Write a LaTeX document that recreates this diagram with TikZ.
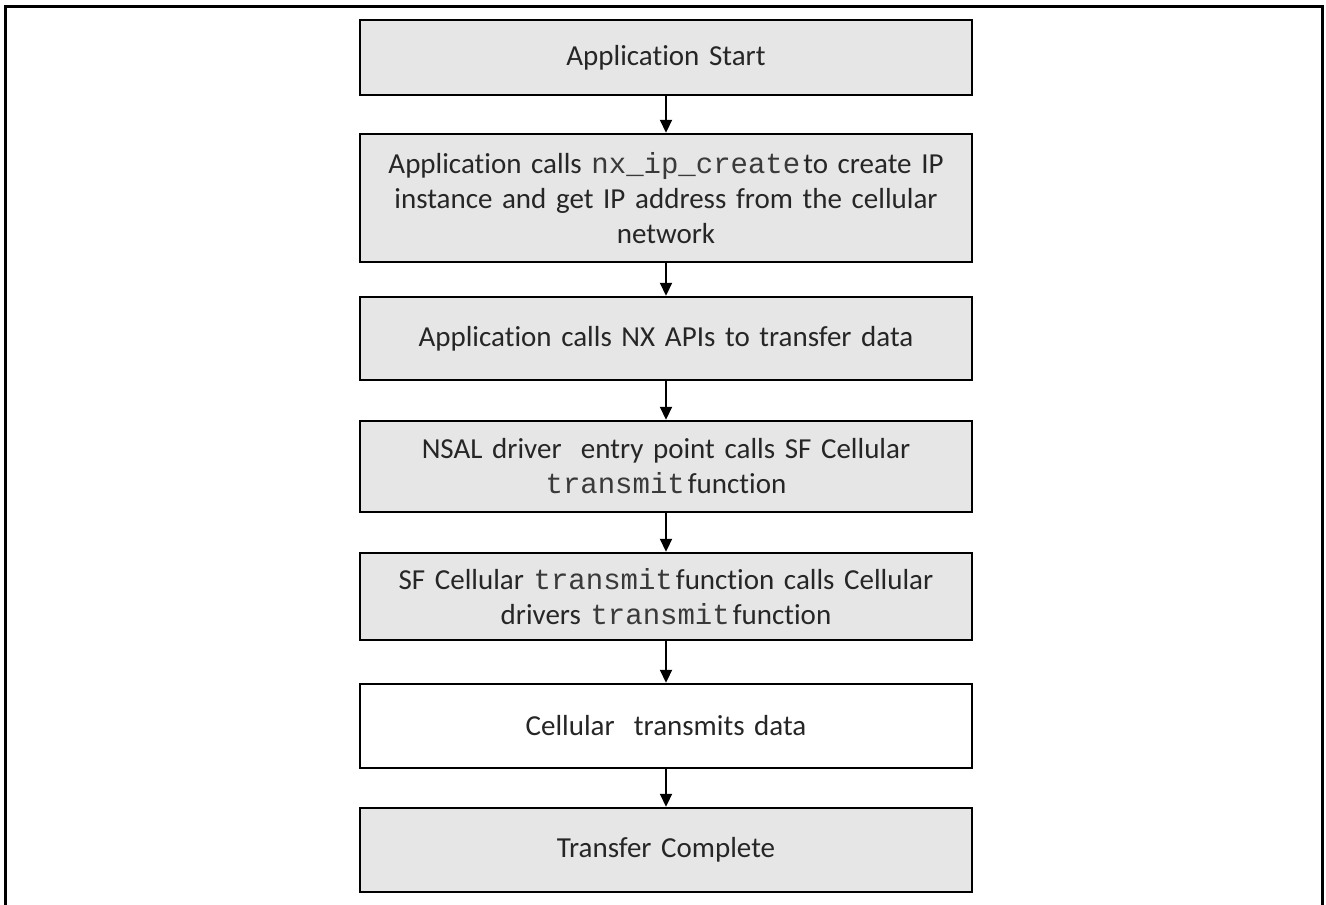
\documentclass[tikz,border=0pt]{standalone}
\usepackage{fontspec}
\setmainfont{Carlito}[Ligatures=NoCommon]
\setmonofont{Liberation Mono}
\usetikzlibrary{arrows.meta}
\definecolor{boxgray}{HTML}{E6E6E6}
\definecolor{codegray}{HTML}{3A3A3A}
\tikzset{
  flowbox/.style={draw=black, line width=2.5pt, fill=boxgray, rectangle,
    minimum width=612pt, text width=600pt, align=center, inner sep=0pt,
    text=black!85, font=\fontsize{29}{35}\selectfont},
  plainbox/.style={flowbox, fill=white},
  flowarrow/.style={draw=black, line width=2.2pt,
    -{Triangle[length=13pt,width=12pt]}},
  frameline/.style={draw=black, line width=3pt}
}
\newcommand{\code}[1]{{\ttfamily\color{codegray}#1}}
\begin{document}
\begin{tikzpicture}[x=1pt,y=-1pt]
  \useasboundingbox (0,0) rectangle (1326,905);
  % outer frame, open at the bottom
  \draw[frameline] (5,905) -- (5,6) -- (1322.5,6) -- (1322.5,905);

  \node[flowbox, minimum height=75pt] (start) at (666,57.5) {Application Start};
  \node[flowbox, minimum height=128pt] (create) at (666,198)
    {Application calls \code{nx\_ip\_create}\hspace{3pt}to create IP\\
     instance and get IP address from the cellular\\ network};
  \node[flowbox, minimum height=83pt] (apis) at (666,338.5)
    {Application calls NX APIs to transfer data};
  \node[flowbox, minimum height=91pt] (nsal) at (666,466.5)
    {NSAL driver\ \ entry point calls SF Cellular\\
     \code{transmit}\hspace{3pt}function};
  \node[flowbox, minimum height=87pt] (sfcell) at (666,596.5)
    {SF Cellular \code{transmit}\hspace{3pt}function calls Cellular\\
     drivers \code{transmit}\hspace{3pt}function};
  \node[plainbox, minimum height=84pt] (tx) at (666,726)
    {Cellular\ \ transmits data};
  \node[flowbox, minimum height=84pt] (done) at (666,850)
    {Transfer Complete};

  \draw[flowarrow] (start.south) -- (create.north);
  \draw[flowarrow] (create.south) -- (apis.north);
  \draw[flowarrow] (apis.south) -- (nsal.north);
  \draw[flowarrow] (nsal.south) -- (sfcell.north);
  \draw[flowarrow] (sfcell.south) -- (tx.north);
  \draw[flowarrow] (tx.south) -- (done.north);
\end{tikzpicture}
\end{document}
